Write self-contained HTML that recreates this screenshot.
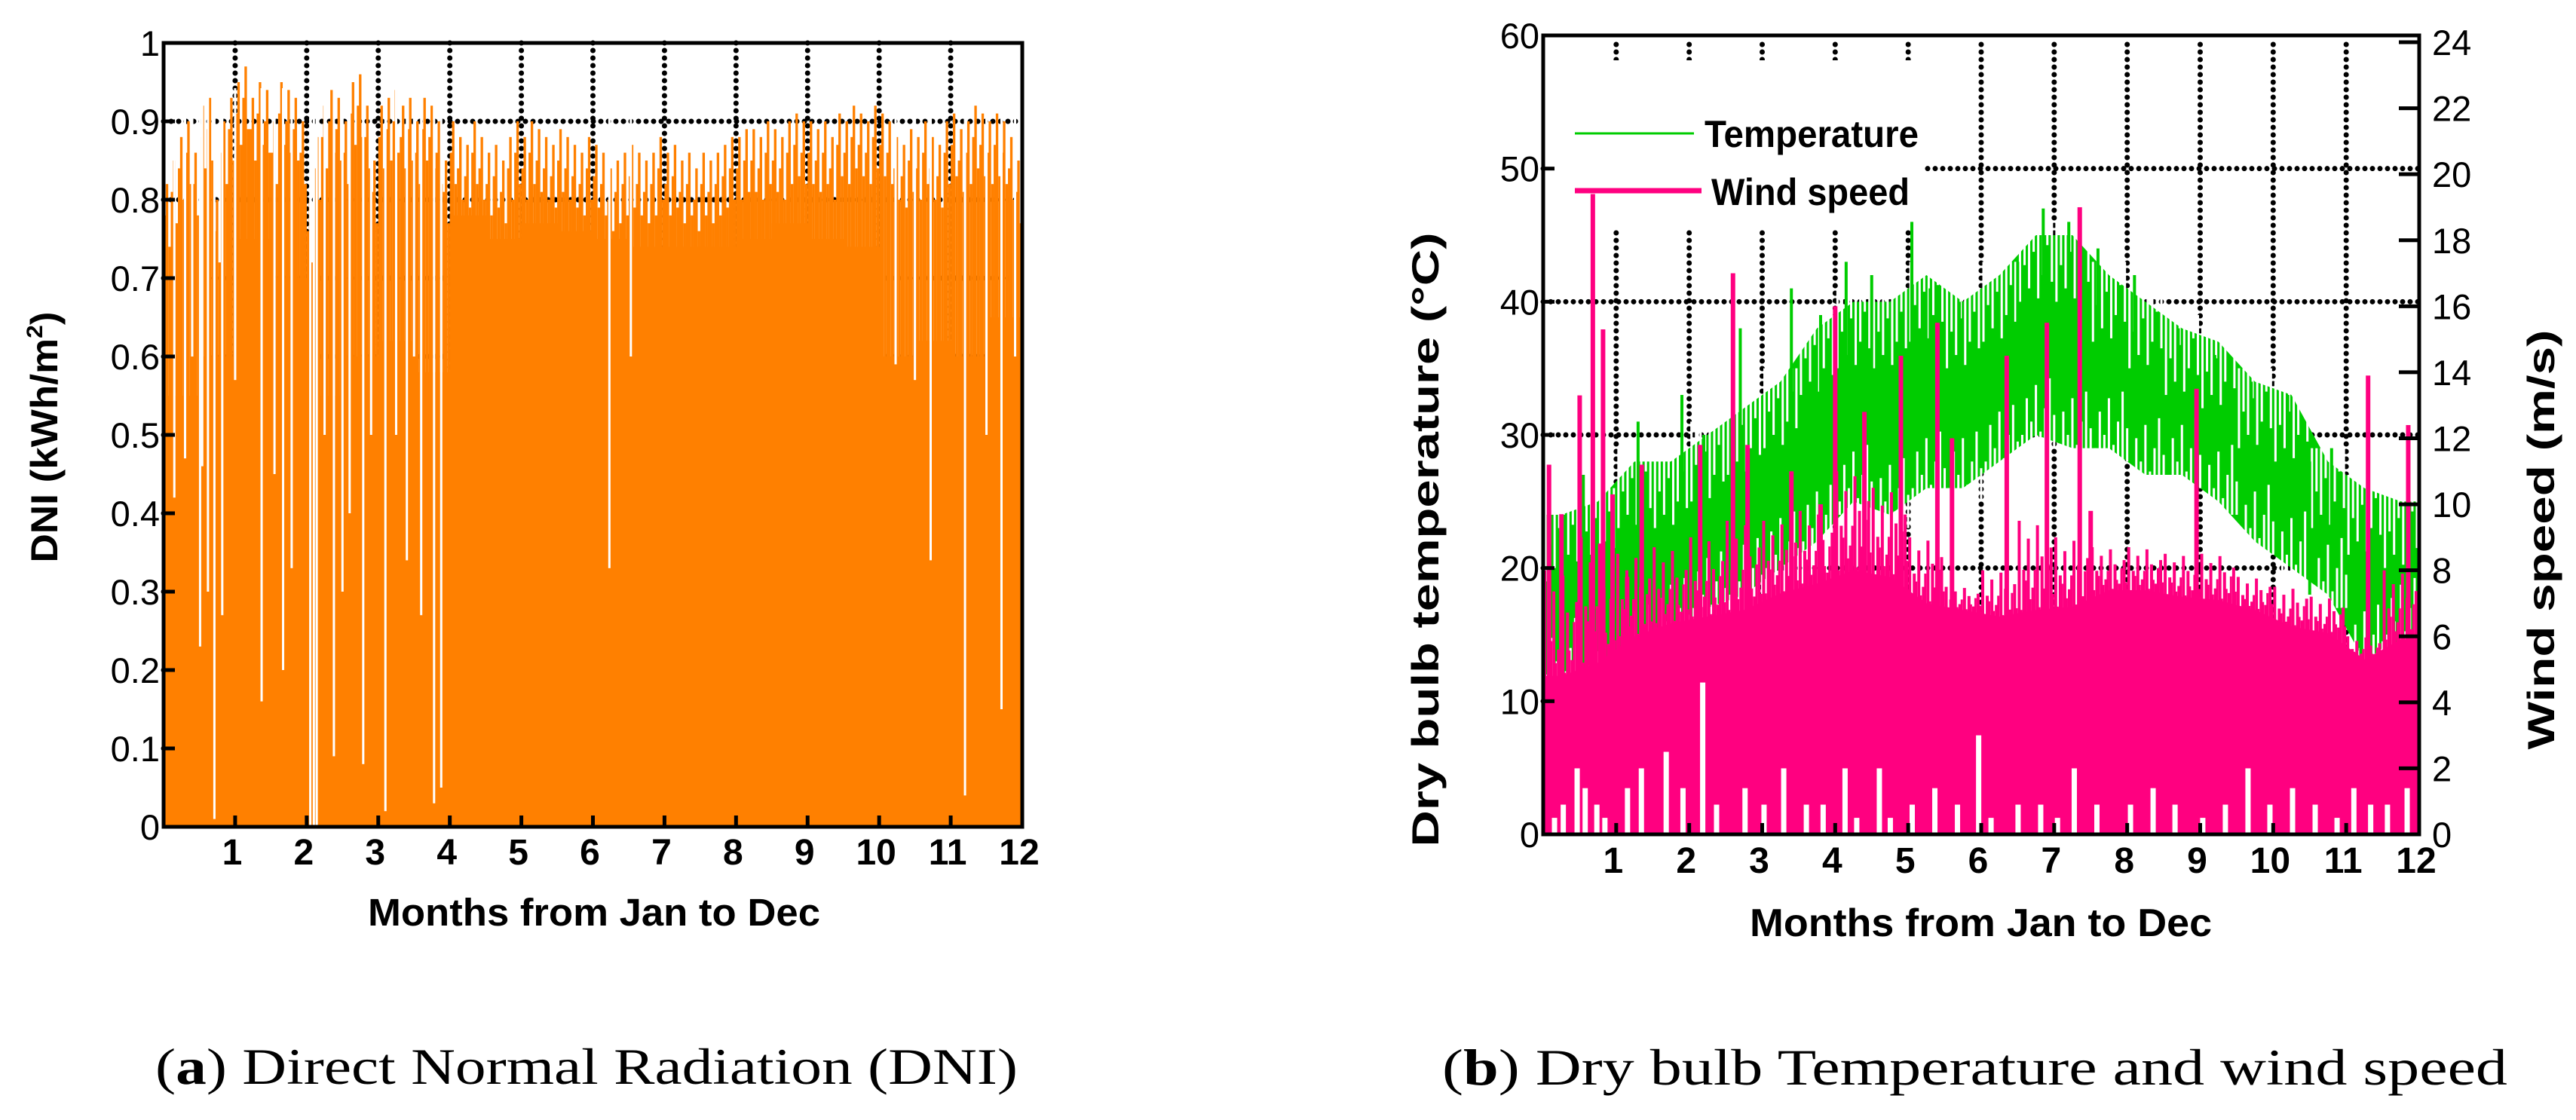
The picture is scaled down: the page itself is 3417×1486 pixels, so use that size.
<!DOCTYPE html>
<html><head><meta charset="utf-8"><style>
html,body{margin:0;padding:0;background:#fff;}
svg{display:block;}
text{font-family:"Liberation Sans",Arial,sans-serif;}
.cap{font-family:"Liberation Serif",serif;}
</style></head><body>
<svg id="fig" width="3417" height="1486" viewBox="0 0 3417 1486" xmlns="http://www.w3.org/2000/svg">
<g id="chartA"></g>
<g id="chartB"></g>
<text class="cap" x="206" y="1438" font-size="68" textLength="1144" lengthAdjust="spacingAndGlyphs">(<tspan font-weight="bold">a</tspan>) Direct Normal Radiation (DNI)</text>
<text class="cap" x="1913" y="1439" font-size="68" textLength="1413" lengthAdjust="spacingAndGlyphs">(<tspan font-weight="bold">b</tspan>) Dry bulb Temperature and wind speed</text>
</svg>
<script>
// ---------- DNI data (chart a) ----------
const dniHigh = [0.82,0.85,0.88,0.9,0.86,0.92,0.93,0.8,0.9,0.93,
0.95,0.97,0.93,0.95,0.94,0.9,0.95,0.94,0.93,0.9,
0.8,0.88,0.92,0.94,0.93,0.9,0.95,0.96,0.92,0.85,
0.92,0.93,0.94,0.92,0.93,0.9,0.93,0.92,0.9,0.85,
0.9,0.88,0.87,0.9,0.88,0.86,0.87,0.85,0.88,0.9,
0.88,0.9,0.89,0.88,0.87,0.89,0.88,0.87,0.86,0.88,
0.87,0.86,0.84,0.85,0.86,0.87,0.86,0.85,0.86,0.88,
0.86,0.87,0.85,0.86,0.84,0.86,0.85,0.86,0.87,0.88,
0.88,0.89,0.89,0.88,0.9,0.89,0.88,0.9,0.91,0.9,
0.9,0.89,0.9,0.88,0.91,0.9,0.92,0.91,0.9,0.92,
0.91,0.9,0.88,0.87,0.89,0.88,0.9,0.88,0.87,0.9,
0.91,0.89,0.9,0.92,0.91,0.9,0.91,0.9,0.88,0.85];
const dniLow = [0.55,0.6,0.75,0.7,0.55,0.6,0.62,0.58,0.78,0.75,0.77,0.76,0.75,0.74,0.74,0.74,0.75,0.77,0.75,0.74,0.6,0.62,0.6,0.65];
const dniDips = [[0.71,0.01],[0.51,0.23],[0.54,0.46],[0.82,0.27],[1.37,0.16],[1.67,0.2],[1.79,0.33],[2.05,0.0],[2.1,0.0],[2.14,0.0],[2.38,0.09],[2.79,0.08],[3.1,0.02],[3.4,0.34],[3.6,0.27],[3.78,0.03],[3.88,0.05],[6.23,0.33],[6.53,0.6],[10.23,0.59],[10.5,0.57],[10.72,0.34],[11.2,0.04],[11.71,0.15],[0.3,0.47],[1.0,0.57],[2.6,0.4],[2.9,0.5],[0.15,0.42],[0.4,0.6],[0.62,0.3],[1.55,0.45],[2.25,0.5],[2.5,0.3],[3.25,0.5],[3.5,0.6],[11.5,0.5],[11.9,0.6]];
const dniTicks = ["0","0.1","0.2","0.3","0.4","0.5","0.6","0.7","0.8","0.9","1"];
const monthTicks = ["1","2","3","4","5","6","7","8","9","10","11","12"];

// ---------- Temperature / wind data (chart b) ----------
const tempLow = [12,10,13,15,17,18,20,22,25,24,26,26,28,30,29,29,27,27,25,22,20,18,13,15];
const tempHigh = [24,25,28,28,30,32,34,38,40,40,42,40,42,45,45,42,40,38,37,34,33,28,26,25];
const tempPeaks = [[0.3,24],[0.55,27],[1.3,31],[1.9,33],[2.2,30],[2.7,38],[3.4,41],[3.8,39],[4.15,43],[4.5,42],[5.05,46],[5.3,41],[5.7,40],[6.5,43],[6.85,47],[7.2,46],[7.6,44],[8.1,42],[8.7,38],[9.2,36],[9.7,34],[10.2,33],[10.8,29],[11.4,25],[11.85,30]];
const tempDips = [[0.2,13],[0.7,11],[0.95,10],[10.5,18],[11.2,13],[11.7,13]];
const windLevel = [4.8,5.2,6.0,6.4,6.6,6.8,7.3,7.6,8.0,7.8,7.0,6.8,6.6,6.8,6.9,7.4,7.4,7.2,7.1,6.8,6.3,6.1,5.3,5.9];
const windHigh = [8,9,8.5,8.7,9,9.5,9.5,9.8,11,10.5,9,7.5,8,9.5,9,8.7,8.7,8.5,8.5,7.8,7.5,7.2,6,8];
const windSpikes = [[0.08,11.2],[0.5,13.3],[0.68,19.4],[0.82,15.3],[0.95,10.3],[1.35,11.2],[2.15,11.8],[2.6,17],[2.8,11.8],[3.4,11],[3.8,10],[4.0,16],[4.4,12.8],[4.9,14.5],[5.4,15.5],[5.6,12],[6.35,14.5],[6.9,15.5],[7.35,19],[7.5,9.8],[8.95,13.5],[11.3,13.9],[11.85,12.4],[0.25,9.7],[1.15,7.8]];
const windGaps = [[0.15,0.5],[0.27,0.9],[0.46,2.0],[0.57,1.4],[0.73,0.9],[0.84,0.5],[1.15,1.4],[1.34,2.0],[1.68,2.5],[1.91,1.4],[2.18,4.6],[2.37,0.9],[2.76,1.4],[3.02,0.9],[3.29,2.0],[3.6,0.9],[3.83,0.9],[4.13,2.0],[4.29,0.5],[4.6,2.0],[4.75,0.5],[5.05,0.9],[5.36,1.4],[5.67,0.9],[5.96,3.0],[6.13,0.5],[6.5,0.9],[6.81,0.9],[7.04,0.5],[7.27,2.0],[7.58,0.9],[8.04,0.9],[8.35,1.4],[8.65,0.9],[9.03,0.5],[9.34,0.9],[9.65,2.0],[9.95,0.9],[10.26,1.4],[10.57,0.9],[10.87,0.5],[11.1,1.4],[11.33,0.9],[11.56,0.9],[11.83,1.4]];
const tempTicks = ["0","10","20","30","40","50","60"];
const windTicks = ["0","2","4","6","8","10","12","14","16","18","20","22","24"];

const NS = "http://www.w3.org/2000/svg";
const TEX = [1,0.45,0.8,0.25,0.95,0.6,0.15,0.7];
function mk(parent, tag, attrs, txt){
  const e = document.createElementNS(NS, tag);
  for (const k in attrs) e.setAttribute(k, attrs[k]);
  if (txt !== undefined) e.textContent = txt;
  parent.appendChild(e);
  return e;
}
const DOT = {stroke:"#000","stroke-width":7,"stroke-dasharray":"0 10","stroke-linecap":"round",fill:"none"};

// ================= Chart A =================
(function(){
  const g = document.getElementById('chartA');
  const L=217,R=1356,T=57,B=1097;
  const x = m => L + m*(R-L)/12;
  const y = v => B - v*(B-T);
  for (let i=1;i<=9;i++){
    const l = mk(g,'line',Object.assign({x1:L,x2:R,y1:y(i/10),y2:y(i/10)},DOT));
     
  }
  for (let m=1;m<=11;m++){
    const l = mk(g,'line',Object.assign({x1:x(m),x2:x(m),y1:T,y2:B},DOT));
     
  }
  const n = dniLow.length, bw=(R-L)/n;
  for (let i=0;i<n;i++){
    const r = mk(g,'rect',{x:x(i*12/n),y:y(dniLow[i]),width:bw+1,height:B-y(dniLow[i]),fill:"#ff8000"});
     
  }
  const nh = dniHigh.length, hw=(R-L)/nh;
  for (let i=0;i<nh;i++){
    const v = dniHigh[i];
    const x0 = x(i*12/nh);
    const r = mk(g,'rect',{x:x0+hw*0.3,y:y(v),width:hw*0.35,height:B-y(v),fill:"#ff8000"});
     
    const r2 = mk(g,'rect',{x:x0,y:y(v-0.04),width:hw*0.35,height:B-y(v-0.04),fill:"#ff8000"});
     
    const r3 = mk(g,'rect',{x:x0+hw*0.65,y:y(v-0.08),width:hw*0.36,height:B-y(v-0.08),fill:"#ff8000"});
     
  }
  dniDips.forEach(d=>{
    const r = mk(g,'rect',{x:x(d[0])-1.5,y:T+60,width:3,height:y(d[1])-T-60,fill:"#fff"});
     
  });
  const box = mk(g,'rect',{x:L,y:T,width:R-L,height:B-T,fill:"none",stroke:"#000","stroke-width":5});
   
  dniTicks.forEach((t,i)=>{
    const yy=y(i/10);
    const tk = mk(g,'line',{x1:L,x2:L+15,y1:yy,y2:yy,stroke:"#000","stroke-width":5});
     
    const tx = mk(g,'text',{x:212,y:yy+17,"font-size":47,"text-anchor":"end"},t);
     
  });
  monthTicks.forEach((t,i)=>{
    const xx=x(i+1);
    const tk = mk(g,'line',{x1:xx,x2:xx,y1:B,y2:B-15,stroke:"#000","stroke-width":5});
     
    const tx = mk(g,'text',{x:xx-4,y:1147,"font-size":48,"font-weight":"bold","text-anchor":"middle"},t);
     
  });
  const xt = mk(g,'text',{x:488,y:1228,"font-size":51,"font-weight":"bold",textLength:600,lengthAdjust:"spacingAndGlyphs"},"Months from Jan to Dec");
   
  const yt = mk(g,'text',{transform:"translate(76,580) rotate(-90)","font-size":50,"font-weight":"bold","text-anchor":"middle",textLength:333,lengthAdjust:"spacingAndGlyphs"});
   
  yt.innerHTML = 'DNI (kWh/m<tspan dy="-20" font-size="30">2</tspan><tspan dy="20">)</tspan>';
})();

// ================= Chart B =================
(function(){
  const g = document.getElementById('chartB');
  const L=2047,R=3209,T=47,B=1107;
  const x = m => L + m*(R-L)/12;
  const yT = t => B - t*(B-T)/60;
  const yW = w => B - w*(B-56)/24;
  for (let i=1;i<=5;i++){
    const l = mk(g,'line',Object.assign({x1:L,x2:R,y1:yT(i*10),y2:yT(i*10)},DOT));
     
  }
  for (let m=1;m<=11;m++){
    const l = mk(g,'line',Object.assign({x1:x(m),x2:x(m),y1:T+12,y2:B},DOT));
     
  }
  const lb = mk(g,'rect',{x:L+4,y:80,width:500,height:225,fill:"#fff"});
   
  // temperature band
  const n = tempLow.length;
  let pts=[];
  for (let i=0;i<n;i++){ pts.push(x((i+0.5)*12/n)+','+yT(tempHigh[i])); }
  pts.unshift(x(0)+','+yT(tempHigh[0])); pts.push(x(12)+','+yT(tempHigh[n-1]));
  let low=[];
  for (let i=n-1;i>=0;i--){ low.push(x((i+0.5)*12/n)+','+yT(tempLow[i])); }
  low.unshift(x(12)+','+yT(tempLow[n-1])); low.push(x(0)+','+yT(tempLow[0]));
  const band = mk(g,'polygon',{points:pts.concat(low).join(' '),fill:"#00cc00"});
   
  // texture notches on band edges
  const bwT=(R-L)/n;
  for (let i=0;i<n;i++){
    const x0=x(i*12/n);
    TEX.forEach((f,k)=>{
      const xx=x0+bwT*(k+0.5)/TEX.length;
      const a = mk(g,'line',{x1:xx,x2:xx,y1:yT(tempHigh[i]+1),y2:yT(tempHigh[i]-f*5),stroke:"#fff","stroke-width":3});
       
      const b = mk(g,'line',{x1:xx+3,x2:xx+3,y1:yT(tempLow[i]-1),y2:yT(tempLow[i]+(1-f)*5),stroke:"#fff","stroke-width":3});
       
    });
  }
  tempPeaks.forEach(p=>{
    const l = mk(g,'line',{x1:x(p[0]),x2:x(p[0]),y1:yT(p[1]),y2:yT(p[1]-10),stroke:"#00cc00","stroke-width":4});
     
  });
  tempDips.forEach(p=>{
    const l = mk(g,'line',{x1:x(p[0]),x2:x(p[0]),y1:yT(p[1]),y2:yT(p[1]+10),stroke:"#00cc00","stroke-width":4});
     
  });
  // wind
  const nw = windLevel.length, bw=(R-L)/nw;
  let wp=[x(0)+','+B, x(0)+','+yW(windLevel[0])];
  for (let i=0;i<nw;i++) wp.push(x((i+0.5)*12/nw)+','+yW(windLevel[i]));
  wp.push(x(12)+','+yW(windLevel[nw-1])); wp.push(x(12)+','+B);
  const wpoly = mk(g,'polygon',{points:wp.join(' '),fill:"#ff0080"});
   
  for (let i=0;i<nw;i++){
    const x0=x(i*12/nw);
    TEX.forEach((f,k)=>{
      const h = windLevel[i] + (windHigh[i]-windLevel[i])*f;
      const r = mk(g,'rect',{x:x0+bw*k/TEX.length,y:yW(h),width:4,height:B-yW(h),fill:"#ff0080"});
       
      const r2 = mk(g,'rect',{x:x0+bw*(k+0.5)/TEX.length,y:yW(windLevel[i]+0.6*(1-f)*(windHigh[i]-windLevel[i])),width:3,height:B-yW(windLevel[i]+0.6*(1-f)*(windHigh[i]-windLevel[i])),fill:"#ff0080"});
       
    });
  }
  windSpikes.forEach(p=>{
    const r = mk(g,'rect',{x:x(p[0])-3,y:yW(p[1]),width:6,height:B-yW(p[1]),fill:"#ff0080"});
     
  });
  windGaps.forEach(p=>{
    const r = mk(g,'rect',{x:x(p[0])-3,y:yW(p[1]),width:7,height:B-yW(p[1]),fill:"#fff"});
     
  });
  const box = mk(g,'rect',{x:L,y:T,width:R-L,height:B-T,fill:"none",stroke:"#000","stroke-width":5});
   
  tempTicks.forEach((t,i)=>{
    const yy=yT(i*10);
    const tk = mk(g,'line',{x1:L,x2:L+15,y1:yy,y2:yy,stroke:"#000","stroke-width":5});
     
    const tx = mk(g,'text',{x:2042,y:yy+17,"font-size":47,"text-anchor":"end"},t);
     
  });
  windTicks.forEach((t,i)=>{
    const yy=yW(i*2);
    const tk = mk(g,'line',{x1:R-27,x2:R,y1:yy,y2:yy,stroke:"#000","stroke-width":5});
     
    const tx = mk(g,'text',{x:3226,y:yy+17,"font-size":47},t);
     
  });
  monthTicks.forEach((t,i)=>{
    const xx=x(i+1);
    const tk = mk(g,'line',{x1:xx,x2:xx,y1:B,y2:B-15,stroke:"#000","stroke-width":5});
     
    const tx = mk(g,'text',{x:xx-4,y:1158,"font-size":48,"font-weight":"bold","text-anchor":"middle"},t);
     
  });
  const xt = mk(g,'text',{x:2321,y:1242,"font-size":52,"font-weight":"bold",textLength:613,lengthAdjust:"spacingAndGlyphs"},"Months from Jan to Dec");
   
  const yl = mk(g,'text',{transform:"translate(1908,716) rotate(-90)","font-size":50,"font-weight":"bold","text-anchor":"middle",textLength:815,lengthAdjust:"spacingAndGlyphs"},"Dry bulb temperature (°C)");
   
  const yr = mk(g,'text',{transform:"translate(3388,716) rotate(-90)","font-size":50,"font-weight":"bold","text-anchor":"middle",textLength:557,lengthAdjust:"spacingAndGlyphs"},"Wind speed (m/s)");
   
  const l1 = mk(g,'line',{x1:2089,x2:2247,y1:177,y2:177,stroke:"#00cc00","stroke-width":3});
   
  const t1 = mk(g,'text',{x:2261,y:195,"font-size":50,"font-weight":"bold",textLength:284,lengthAdjust:"spacingAndGlyphs"},"Temperature");
   
  const l2 = mk(g,'line',{x1:2089,x2:2257,y1:253,y2:253,stroke:"#ff0080","stroke-width":7});
   
  const t2 = mk(g,'text',{x:2270,y:272,"font-size":50,"font-weight":"bold",textLength:263,lengthAdjust:"spacingAndGlyphs"},"Wind speed");
   
})();
</script>
</body></html>
